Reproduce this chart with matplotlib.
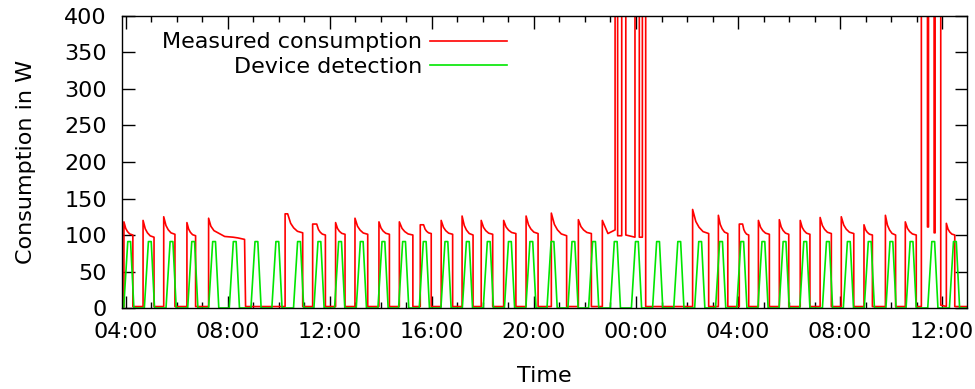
import matplotlib.pyplot as plt
from matplotlib.ticker import MultipleLocator, FuncFormatter

# x values are hours after 04:00 on the first day

# regular heating cycles of the measured consumption
red_on = [-0.08, 0.67, 1.48, 2.39, 6.24, 7.32, 8.22, 8.98, 9.92, 10.72, 11.54, 12.36,
          13.18, 13.93, 14.81, 15.69, 16.68, 17.74, 22.22, 23.23, 24.05, 24.80, 25.62,
          26.44, 27.22, 28.05, 28.94, 29.78, 30.56, 32.17]
red_off = [0.27, 1.10, 1.92, 2.73, 6.93, 7.82, 8.59, 9.48, 10.33, 11.25, 11.97, 12.81,
           13.61, 14.38, 15.29, 16.16, 17.28, 18.25, 22.85, 23.60, 24.42, 25.23, 25.99,
           26.82, 27.66, 28.54, 29.27, 30.18, 30.99, 32.50]
red_peak = [118, 120, 125, 117, 129, 115, 117, 123, 118, 118, 114, 120,
            126, 120, 120, 126, 130, 121, 135, 127, 115, 120, 121,
            120, 124, 125, 114, 127, 118, 116]
red_end = [100, 97, 101, 99, 103, 100, 101, 101, 101, 100, 102, 101,
           100, 101, 102, 102, 99, 102, 102, 102, 100, 101, 101,
           101, 102, 102, 100, 100, 100, 100]
red_hold = [0, 0, 0, 0, 0.10, 0.16, 0, 0, 0, 0, 0.13, 0,
            0, 0, 0, 0, 0, 0, 0, 0, 0.13, 0, 0,
            0, 0, 0, 0, 0, 0, 0]
red_base = 2

# irregular parts (long cycle and the two bursts above 400 W)
irr_t = [3.24, 3.24, 3.33, 3.45, 3.61, 3.87, 4.20, 4.39, 4.65, 4.69,
         18.68, 18.68, 18.90, 19.01, 19.18, 19.18, 19.28, 19.28, 19.44, 19.44,
         19.60, 19.60, 19.96, 19.96, 20.13, 20.13, 20.25, 20.25, 20.38, 20.38,
         31.19, 31.19, 31.43, 31.43, 31.47, 31.47, 31.69, 31.69, 31.73, 31.73,
         31.95, 31.95]
irr_v = [2, 123, 112, 106, 103, 98, 97, 96, 94, 2,
         2, 120, 102, 104, 107, 1500, 1500, 99, 99, 1500,
         1500, 100, 97, 1500, 1500, 97, 97, 1500, 1500, 2,
         2, 1500, 1500, 111, 111, 1500, 1500, 103, 103, 1500,
         1500, 4]

# device detection pulses
green_center = [0.12, 0.93, 1.78, 2.63, 3.45, 4.26, 5.11, 5.93, 6.78, 7.58,
                8.39, 9.24, 10.09, 10.90, 11.71, 12.56, 13.40, 14.22, 15.05, 15.89,
                16.72, 17.54, 18.35, 19.20, 20.03, 20.86, 21.69, 22.51, 23.33, 24.16,
                24.99, 25.82, 26.63, 27.52, 28.34, 29.16, 30.01, 30.80, 31.65, 32.50]
green_top = 91

x_start, x_end = -0.157, 32.98

# build red polyline
segs = []
for i in range(len(red_on)):
    on, off, p, e, hold = red_on[i], red_off[i], red_peak[i], red_end[i], red_hold[i]
    d = off - on - hold
    pts = [(on, red_base), (on, p)]
    if hold > 0:
        pts.append((on + hold, p))
    for f, r in [(0.2, 0.5), (0.4, 0.26), (0.65, 0.08)]:
        pts.append((on + hold + f * d, e + (p - e) * r))
    pts += [(off, e), (off, red_base)]
    segs.append(pts)
segs.append(list(zip(irr_t[:10], irr_v[:10])))
segs.append(list(zip(irr_t[10:30], irr_v[10:30])))
segs.append(list(zip(irr_t[30:], irr_v[30:])))
segs.sort(key=lambda s: s[0][0])

red_x = [x_start]
red_y = [red_base]
for s in segs:
    for t, v in s:
        red_x.append(t)
        red_y.append(v)
red_x.append(x_end)
red_y.append(red_base)

green_x = [x_start]
green_y = [0]
for c in green_center:
    green_x += [c - 0.21, c - 0.05, c + 0.06, c + 0.19]
    green_y += [0, green_top, green_top, 0]
green_x.append(x_end)
green_y.append(0)

fs = 16

fig = plt.figure(figsize=(9.75, 3.89), dpi=100)
ax = fig.add_axes([0.1251, 0.2082, 0.8667, 0.7507])

ax.plot(red_x, red_y, color='#ff0000', lw=1.2, label='Measured consumption')
ax.plot(green_x, green_y, color='#00e600', lw=1.2, label='Device detection')

ax.set_xlim(x_start, x_end)
ax.set_ylim(0, 400)
ax.xaxis.set_major_locator(MultipleLocator(4))
ax.xaxis.set_minor_locator(MultipleLocator(1))
ax.xaxis.set_major_formatter(FuncFormatter(lambda h, pos: "%02d:00" % (int(round(4 + h)) % 24)))
ax.yaxis.set_major_locator(MultipleLocator(50))

ax.tick_params(which='both', direction='in', top=True, right=True, labelsize=fs, width=1)
ax.tick_params(which='major', length=9)
ax.tick_params(which='minor', length=4.5)
ax.tick_params(axis='y', pad=11)
ax.tick_params(axis='x', pad=10)
for sp in ax.spines.values():
    sp.set_linewidth(1)

ax.set_xlabel('Time', fontsize=fs, labelpad=17)
ax.set_ylabel('Consumption in W', fontsize=fs, labelpad=20)

ax.legend(loc='upper right', bbox_to_anchor=(0.456, 0.944), markerfirst=False, frameon=False,
          fontsize=fs, handlelength=3.5, handletextpad=0.35, labelspacing=0.22, borderpad=0,
          borderaxespad=0)

fig.savefig('out.png', dpi=100)
